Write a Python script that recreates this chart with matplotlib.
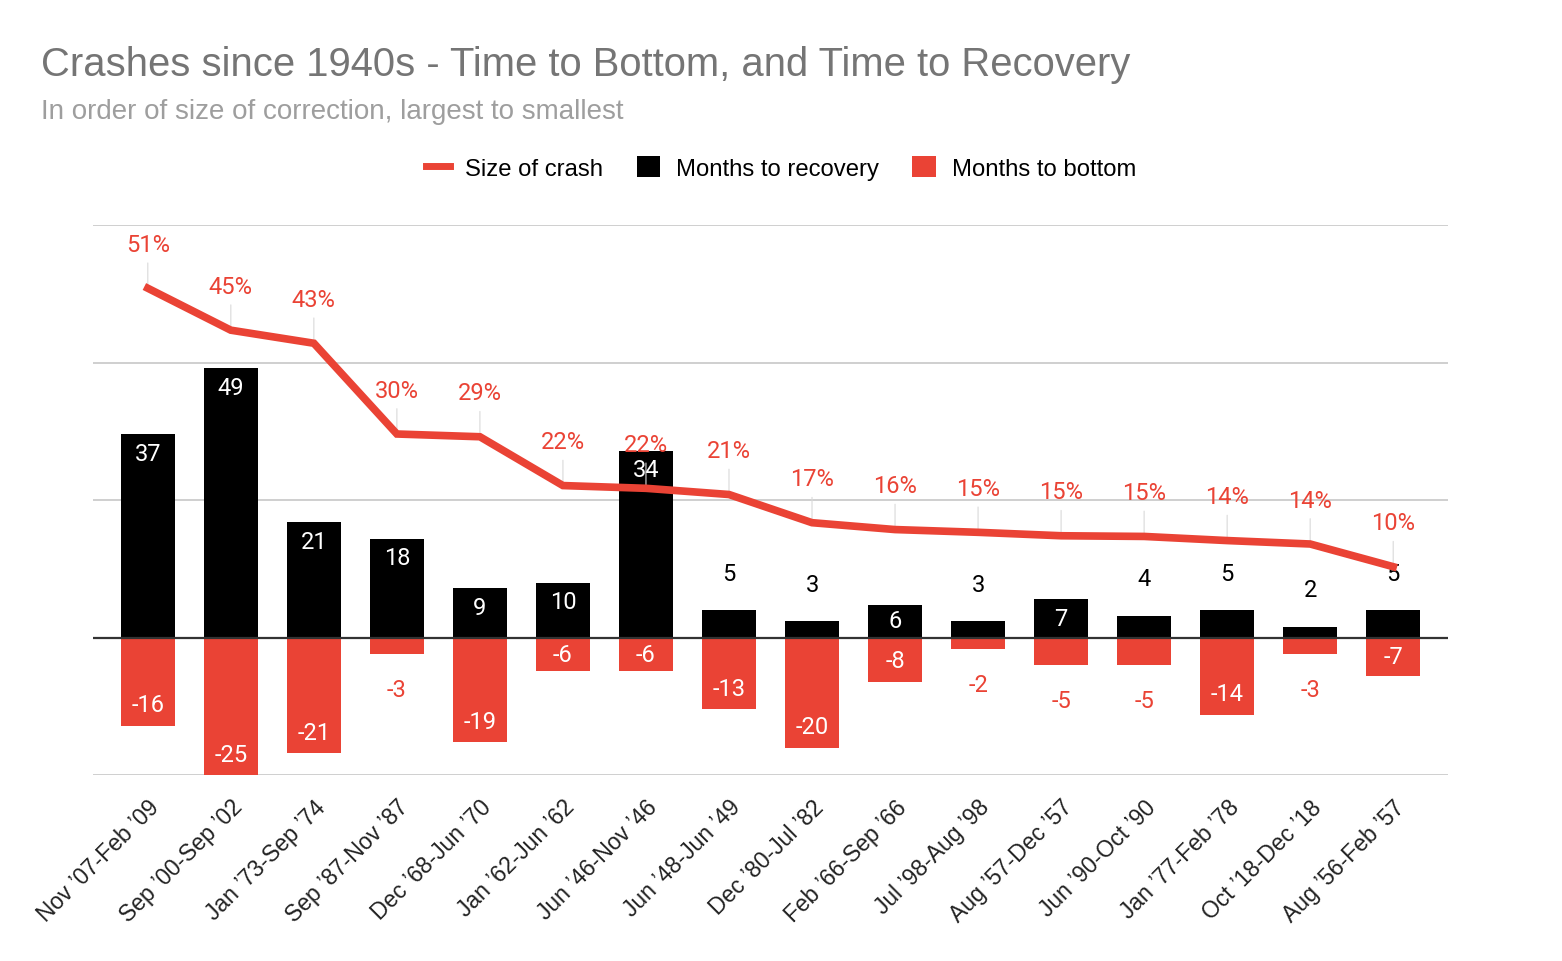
import matplotlib.pyplot as plt
from matplotlib.lines import Line2D
from matplotlib.patches import Patch

# data
periods = ["Nov ’07-Feb ’09", "Sep ’00-Sep ’02", "Jan ’73-Sep ’74", "Sep ’87-Nov ’87",
           "Dec ’68-Jun ’70", "Jan ’62-Jun ’62", "Jun ’46-Nov ’46", "Jun ’48-Jun ’49",
           "Dec ’80-Jul ’82", "Feb ’66-Sep ’66", "Jul ’98-Aug ’98", "Aug ’57-Dec ’57",
           "Jun ’90-Oct ’90", "Jan ’77-Feb ’78", "Oct ’18-Dec ’18", "Aug ’56-Feb ’57"]
months_recovery = [37, 49, 21, 18, 9, 10, 34, 5, 3, 6, 3, 7, 4, 5, 2, 5]
months_bottom = [-16, -25, -21, -3, -19, -6, -6, -13, -20, -8, -2, -5, -5, -14, -3, -7]
crash_size = [0.508, 0.447, 0.428, 0.296, 0.292, 0.221, 0.217, 0.208,
              0.167, 0.157, 0.153, 0.148, 0.147, 0.141, 0.136, 0.103]

RED = "#ea4335"
ARIAL = "Liberation Sans"
NUMF = "Roboto"

fig = plt.figure(figsize=(15.62, 9.62), dpi=100)
ax = fig.add_axes([93 / 1562, 1 - 776 / 962, (1448 - 93) / 1562, (776 - 226) / 962])

x = list(range(len(periods)))
ax.bar(x, months_recovery, width=0.65, color="black", zorder=2)
ax.bar(x, months_bottom, width=0.65, color=RED, zorder=2)

ax.set_ylim(-25, 75)
ax.set_xlim(-0.66, len(periods) - 0.34)
ax.set_yticks([-25, 0, 25, 50, 75])
ax.yaxis.grid(True, color="#cccccc", lw=1.3, zorder=0)
ax.set_axisbelow(True)
ax.axhline(0, color="#333333", lw=1.6, zorder=3)
for s in ax.spines.values():
    s.set_visible(False)

ax.set_xticks(x)
ax.set_xticklabels(periods, rotation=45, ha="right", rotation_mode="anchor",
                   fontsize=16.5, family=ARIAL, color="#222222")

# bar value labels: inside when the bar is tall enough, outside otherwise
for i, v in enumerate(months_recovery):
    if v >= 6:
        ax.text(i, max(v - 3.5, v / 2), str(v), ha="center", va="center",
                color="white", fontsize=17, family=NUMF, zorder=4)
    else:
        ax.text(i, v + 6.7, str(v), ha="center", va="center",
                color="black", fontsize=17, family=NUMF, zorder=4)
for i, v in enumerate(months_bottom):
    if v <= -6:
        ax.text(i, min(v + 3.8, v / 2), str(v), ha="center", va="center",
                color="white", fontsize=17, family=NUMF, zorder=4)
    else:
        ax.text(i, v - 6.5, str(v), ha="center", va="center",
                color=RED, fontsize=17, family=NUMF, zorder=4)

# crash size line on a hidden second axis
ax2 = ax.twinx()
ax2.set_ylim(-0.2, 0.6)
ax2.axis("off")
ax2.plot(x, crash_size, color=RED, lw=5.5, solid_joinstyle="miter", zorder=5)
for i, v in enumerate(crash_size):
    ax2.annotate(f"{round(v * 100)}%", xy=(i, v), xytext=(0, 31.5),
                 textcoords="offset points", ha="center", va="center",
                 color=RED, fontsize=17, family=NUMF,
                 arrowprops=dict(arrowstyle="-", color="#d9d9d9", lw=0.8,
                                 shrinkA=3, shrinkB=0))

# twinx turns the left ticks back on, so hide them here
ax.tick_params(left=False, labelleft=False, right=False, bottom=False)
ax.tick_params(axis="x", pad=11)

fig.text(41 / 1562, 1 - 65 / 962, "Crashes since 1940s - Time to Bottom, and Time to Recovery",
         fontsize=28.8, family=ARIAL, color="#757575", va="center")
fig.text(41 / 1562, 1 - 112 / 962, "In order of size of correction, largest to smallest",
         fontsize=20, family=ARIAL, color="#9e9e9e", va="center")

handles = [
    Line2D([0], [0], color=RED, lw=5),
    Patch(facecolor="black"),
    Patch(facecolor=RED),
]
labels = ["Size of crash", "Months to recovery", "Months to bottom"]
fig.legend(handles, labels, loc="center", bbox_to_anchor=(0.5, 1 - 169 / 962), ncol=3,
           frameon=False, prop={"family": ARIAL, "size": 17.2}, handlelength=1.0,
           handleheight=1.0, columnspacing=1.4, handletextpad=0.65)

fig.savefig("out.png", dpi=100)
